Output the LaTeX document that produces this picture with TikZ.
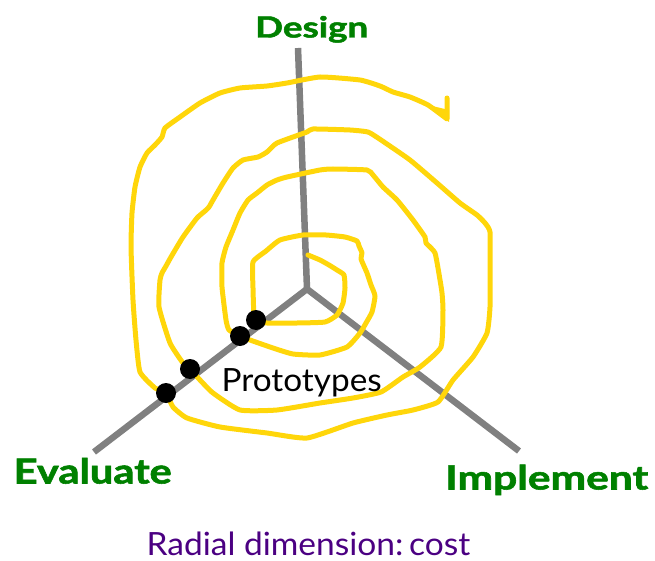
\documentclass[tikz,border=0pt]{standalone}
\usepackage{fontspec}
\setmainfont{Lato}
\newfontfamily\heavylabel{Lato}[FakeBold=1.6]
\usepackage{graphicx}
\definecolor{phasegreen}{RGB}{0,128,0}
\definecolor{notepurple}{RGB}{75,0,130}
\definecolor{spiralgold}{RGB}{255,214,10}
\definecolor{axisgray}{RGB}{128,128,128}
% stretch a label horizontally to a given width, keeping its height
\newcommand{\fitwidth}[2]{\resizebox{#1}{\height}{#2}}
\begin{document}
\begin{tikzpicture}[x=1pt,y=-1pt,
  axisline/.style={draw=axisgray,line width=6.5pt},
  spiralline/.style={draw=spiralgold,line width=5pt,line join=round,line cap=round},
  milestone/.style={circle,fill=black,inner sep=0pt,minimum size=20pt},
  phaselabel/.style={inner sep=0pt,anchor=base west,text=phasegreen,font=\heavylabel\bfseries},
  plainlabel/.style={inner sep=0pt,anchor=base west}]
\useasboundingbox (0,0) rectangle (655,561);

% axes
\coordinate (hub) at (307,289);
\coordinate (designend) at (298,48);
\coordinate (evalend) at (94,452);
\coordinate (implend) at (519,451);
\draw[axisline] (hub) -- (designend);
\draw[axisline] (hub) -- (evalend);
\draw[axisline] (hub) -- (implend);

% hand-drawn spiral, from the centre outwards
\draw[spiralline] plot[smooth,tension=0.3] coordinates {
 (308,255) (320,260) (329,265) (337,270) (344,275) (345,288) (343,303)
 (337,315) (325,322) (297,323) (267,323) (257,320) (254,316) (253,288)
 (253,262) (266,251) (280,240) (303,235) (326,235) (345,237) (357,241)
 (359,246) (362,253) (361,259) (367,273) (371,285) (375,296) (372,312)
 (366,323) (360,333) (347,347) (320,355) (293,354) (273,348) (250,340)
 (240,336) (229,330) (226,320) (222,287) (222,263) (226,247) (233,230)
 (240,213) (248,200) (257,193) (267,185) (277,180) (287,177) (320,170)
 (333,169) (367,170) (373,175) (383,187) (397,200) (413,220) (425,237)
 (426,243) (435,253) (440,280) (442,293) (443,310) (441,347) (420,367)
 (403,377) (381,392) (353,398) (320,403) (277,410) (240,410) (213,393)
 (200,380) (190,369) (183,363) (170,343) (159,307) (160,280) (162,273)
 (166,266) (171,257) (183,237) (197,218) (205,211) (209,207) (213,200)
 (223,183) (233,168) (243,160) (258,157) (267,152) (277,143) (307,132)
 (313,129) (350,130) (368,132) (378,138) (384,142) (410,160) (437,183)
 (460,203) (477,215) (485,223) (490,232) (490,267) (490,307) (487,333)
 (473,357) (453,380) (438,402) (413,410) (387,415) (353,423) (307,438)
 (267,433) (220,427) (187,418) (173,407) (166,393) (155,388) (140,372)
 (136,340) (133,300) (131,247) (132,213) (135,187) (140,167) (147,153)
 (155,145) (162,137) (165,128) (180,117) (200,103) (220,93) (240,88)
 (267,86) (287,83) (320,77) (360,80) (380,86) (393,92) (410,97)
 (428,105) (447,119)} -- (447,98);
% arrow barb at the end of the spiral
\fill[spiralgold] (428,105) -- (449,122) -- (449,110) -- cycle;

% prototype milestones on the evaluate axis
\node[milestone] (p1) at (256,320) {};
\node[milestone] (p2) at (240,336) {};
\node[milestone] (p3) at (190,369) {};
\node[milestone] (p4) at (166,393) {};

% labels
\node[phaselabel] (design) at (255,37.5) {\fitwidth{113pt}{\fontsize{29}{29}\selectfont Design}};
\node[phaselabel] (evaluate) at (13.5,483.5) {\fitwidth{158pt}{\fontsize{34.5}{34.5}\selectfont Evaluate}};
\node[phaselabel] (implement) at (445,489.5) {\fitwidth{203pt}{\fontsize{33.5}{33.5}\selectfont Implement}};
\node[plainlabel] (protos) at (221.5,391) {\fitwidth{160pt}{\fontsize{32}{32}\selectfont Prototypes}};
\node[plainlabel,text=notepurple] (radial) at (146.5,555) {\fitwidth{323.5pt}{\fontsize{32}{32}\selectfont Radial dimension:\,cost}};
\end{tikzpicture}
\end{document}
